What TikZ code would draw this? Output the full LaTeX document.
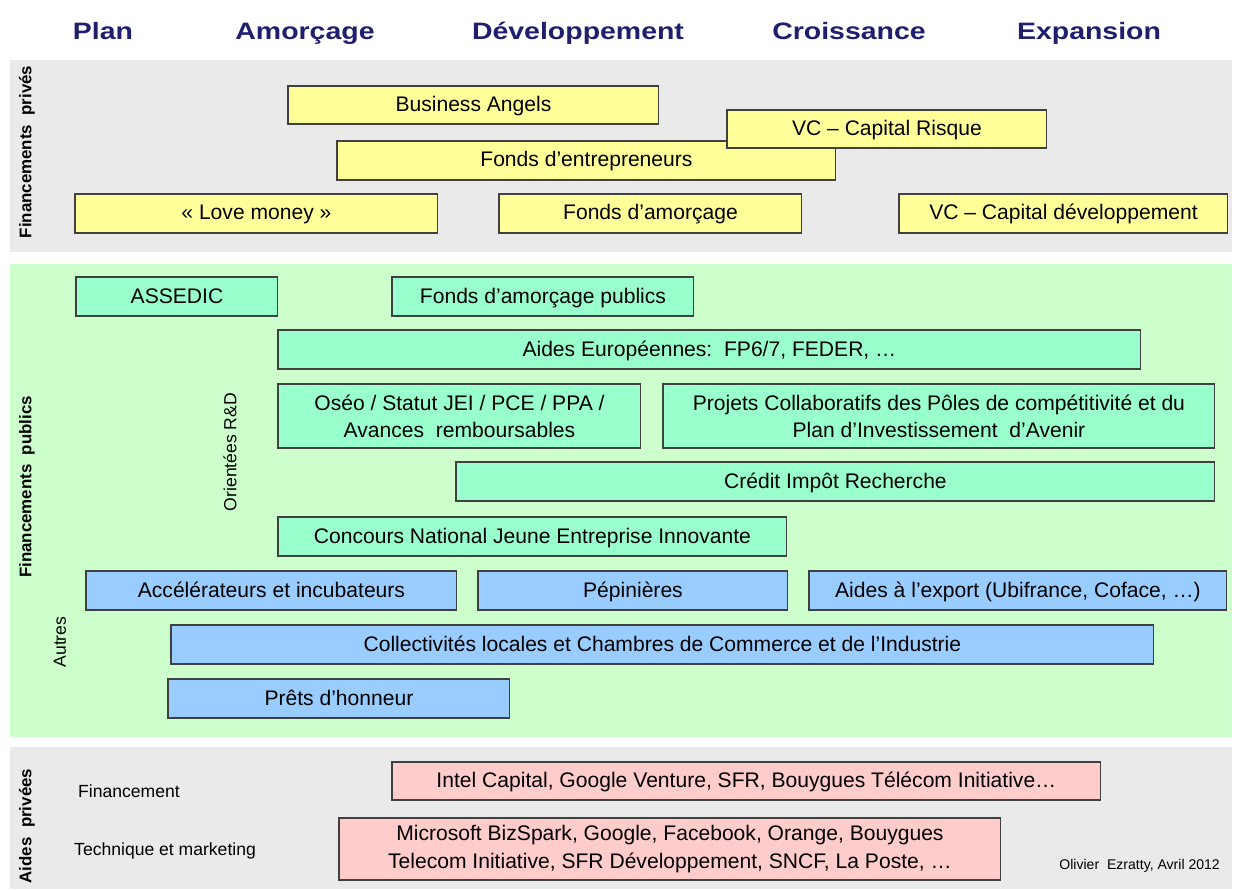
\documentclass[tikz,border=0pt]{standalone}
\usepackage{fontspec}
\setmainfont{Liberation Sans}
\newfontfamily\headfont{Liberation Sans}[FakeStretch=1.2]
\usetikzlibrary{positioning}

\definecolor{navy}{RGB}{31,31,110}
\definecolor{panelgray}{RGB}{234,234,234}
\definecolor{panelgreen}{RGB}{204,255,204}
\definecolor{boxyellow}{RGB}{255,255,153}
\definecolor{boxgreen}{RGB}{153,255,204}
\definecolor{boxblue}{RGB}{153,204,255}
\definecolor{boxpink}{RGB}{255,204,204}

\begin{document}
\begin{tikzpicture}[x=0.02cm,y=-0.02cm]
\tikzstyle{phase}=[text=navy,anchor=base,font=\headfont\bfseries\fontsize{13.5}{16}\selectfont]
\tikzstyle{box}=[draw=black!75,line width=0.6pt,outer sep=0pt,inner sep=0pt,anchor=north west,align=center,font=\fontsize{12}{15.5}\selectfont]
\tikzstyle{one}=[text height=0.32cm,text depth=0.06cm]
\tikzstyle{ybox}=[box,one,fill=boxyellow]
\tikzstyle{gbox}=[box,fill=boxgreen]
\tikzstyle{bbox}=[box,one,fill=boxblue]
\tikzstyle{pbox}=[box,fill=boxpink]
\tikzstyle{side}=[rotate=90,font=\bfseries\fontsize{9.6}{12}\selectfont]
\tikzstyle{sub}=[font=\fontsize{10}{12}\selectfont]

\useasboundingbox (0,0) rectangle (1236,889);

% bands
\fill[panelgray]  (10,60)  rectangle (1232,252);
\fill[panelgreen] (10,264) rectangle (1232,737);
\fill[panelgray]  (10,747) rectangle (1232,889);

% phases
\node[phase] (plan) at (103,39) {Plan};
\node[phase] (amorcage) at (305,39) {Amorçage};
\node[phase] (developpement) at (578,39) {Développement};
\node[phase] (croissance) at (849,39) {Croissance};
\node[phase] (expansion) at (1089,39) {Expansion};

% financements prives
\node[side] (fin_prives) at (27,152) {Financements\ \ privés};
\node[ybox,minimum width=7.42cm,minimum height=0.76cm] (angels) at (288,86) {Business Angels};
\node[ybox,minimum width=9.98cm,minimum height=0.78cm] (fonds_entr) at (337,141) {Fonds d’entrepreneurs};
\node[ybox,minimum width=6.40cm,minimum height=0.76cm] (vc_risque) at (727,110) {VC – Capital Risque};
\node[ybox,minimum width=7.26cm,minimum height=0.78cm] (love) at (75,194) {« Love money »};
\node[ybox,minimum width=6.06cm,minimum height=0.78cm] (fonds_amorc) at (499,194) {Fonds d’amorçage};
\node[ybox,minimum width=6.58cm,minimum height=0.78cm] (vc_dev) at (899,194) {VC – Capital développement};

% financements publics
\node[side] (fin_publics) at (27,487) {Financements\ \ publics};
\node[sub,rotate=90] (rd) at (230,452) {Orientées R\&D};
\node[sub,rotate=90] (autres) at (60,642) {Autres};
\node[gbox,one,minimum width=4.04cm,minimum height=0.78cm] (assedic) at (76,277) {ASSEDIC};
\node[gbox,one,minimum width=6.04cm,minimum height=0.78cm] (fonds_pub) at (392,277) {Fonds d’amorçage publics};
\node[gbox,one,minimum width=17.26cm,minimum height=0.78cm] (europe) at (278,330) {Aides Européennes:\ \ FP6/7, FEDER, …};
\node[gbox,minimum width=7.26cm,minimum height=1.28cm] (oseo) at (278,384) {Oséo / Statut JEI / PCE / PPA /\\Avances\ \ remboursables};
\node[gbox,minimum width=11.04cm,minimum height=1.28cm] (poles) at (663,384) {Projets Collaboratifs des Pôles de compétitivité et du\\Plan d’Investissement\ \ d’Avenir};
\node[gbox,one,minimum width=15.18cm,minimum height=0.78cm] (cir) at (456,462) {Crédit Impôt Recherche};
\node[gbox,one,minimum width=10.18cm,minimum height=0.78cm] (concours) at (278,517) {Concours National Jeune Entreprise Innovante};
\node[bbox,minimum width=7.42cm,minimum height=0.78cm] (accel) at (86,571) {Accélérateurs et incubateurs};
\node[bbox,minimum width=6.20cm,minimum height=0.78cm] (pepinieres) at (478,571) {Pépinières};
\node[bbox,minimum width=8.36cm,minimum height=0.78cm] (export) at (809,571) {Aides à l’export (Ubifrance, Coface, …)};
\node[bbox,minimum width=19.66cm,minimum height=0.78cm] (collect) at (171,625) {Collectivités locales et Chambres de Commerce et de l’Industrie};
\node[bbox,minimum width=6.84cm,minimum height=0.78cm] (prets) at (168,679) {Prêts d’honneur};

% aides privees
\node[side] (aides_priv) at (27,826) {Aides\ \ privées};
\node[sub,anchor=west] (financement) at (72,791) {Financement};
\node[sub,anchor=west] (technique) at (68,851) {Technique et marketing};
\node[pbox,one,minimum width=14.18cm,minimum height=0.76cm] (intel) at (392,762) {Intel Capital, Google Venture, SFR, Bouygues Télécom Initiative…};
\node[pbox,minimum width=13.24cm,minimum height=1.24cm] (microsoft) at (339,818) {Microsoft BizSpark, Google, Facebook, Orange, Bouygues\\Telecom Initiative, SFR Développement, SNCF, La Poste, …};
\node[font=\fontsize{8}{10}\selectfont,anchor=east] (credit) at (1226,866) {Olivier\ \ Ezratty, Avril 2012};

\end{tikzpicture}
\end{document}
